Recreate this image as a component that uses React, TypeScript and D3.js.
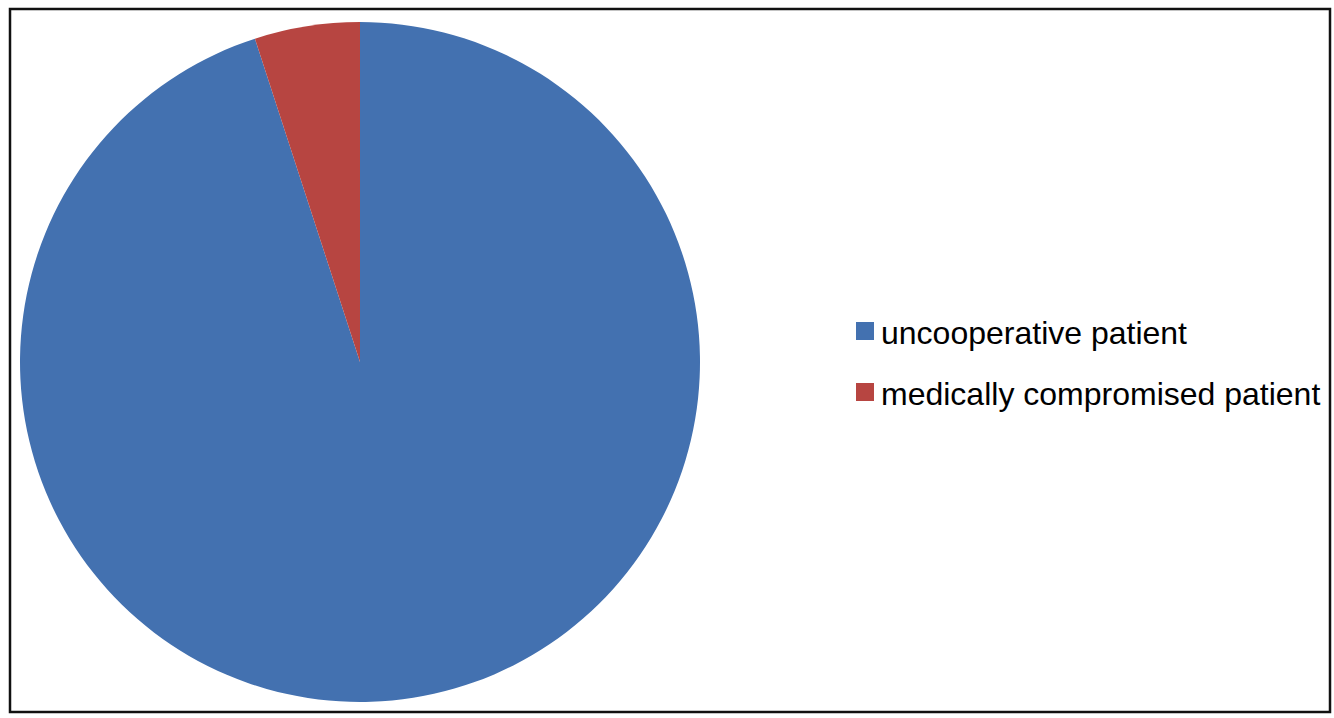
import React, { useEffect, useRef } from "react";
import * as d3 from "d3";

const categories = ["uncooperative patient", "medically compromised patient"];
const values = [95, 5];
const colors = ["#4371b0", "#b74541"];

const App: React.FC = () => {
  const svgRef = useRef<SVGSVGElement>(null);

  useEffect(() => {
    const width = 1334;
    const height = 718;
    const cx = 360;
    const cy = 362;
    const radius = 340;

    const svg = d3
      .select(svgRef.current)
      .attr("width", width)
      .attr("height", height)
      .style("font-family", "'Liberation Sans', Arial, sans-serif");

    svg.selectAll("*").remove();

    svg
      .append("rect")
      .attr("x", 0)
      .attr("y", 0)
      .attr("width", width)
      .attr("height", height)
      .attr("fill", "#fff");

    // outer frame
    svg
      .append("rect")
      .attr("x", 10)
      .attr("y", 9)
      .attr("width", 1320)
      .attr("height", 703)
      .attr("fill", "none")
      .attr("stroke", "#111")
      .attr("stroke-width", 2.5);

    const pie = d3
      .pie<number>()
      .sort(null)
      .value((d) => d);
    const arc = d3.arc<d3.PieArcDatum<number>>().innerRadius(0).outerRadius(radius);

    const g = svg.append("g").attr("transform", `translate(${cx},${cy})`);
    g.selectAll("path")
      .data(pie(values))
      .enter()
      .append("path")
      .attr("d", (d) => arc(d) as string)
      .attr("fill", (_, i) => colors[i]);

    const legend = svg.append("g").attr("transform", "translate(856,322)");
    const item = legend
      .selectAll("g")
      .data(categories)
      .enter()
      .append("g")
      .attr("transform", (_, i) => `translate(0,${i * 61})`);
    item
      .append("rect")
      .attr("width", 18)
      .attr("height", 18)
      .attr("fill", (_, i) => colors[i]);
    item
      .append("text")
      .attr("x", 25)
      .attr("y", 22)
      .attr("font-size", 32)
      .attr("fill", "#000")
      .text((d) => d);
  }, []);

  return (
    <div style={{ position: "fixed", left: 0, top: 0, width: 1334, height: 718, overflow: "hidden" }}>
      <svg ref={svgRef} style={{ display: "block" }} />
    </div>
  );
};

export default App;
